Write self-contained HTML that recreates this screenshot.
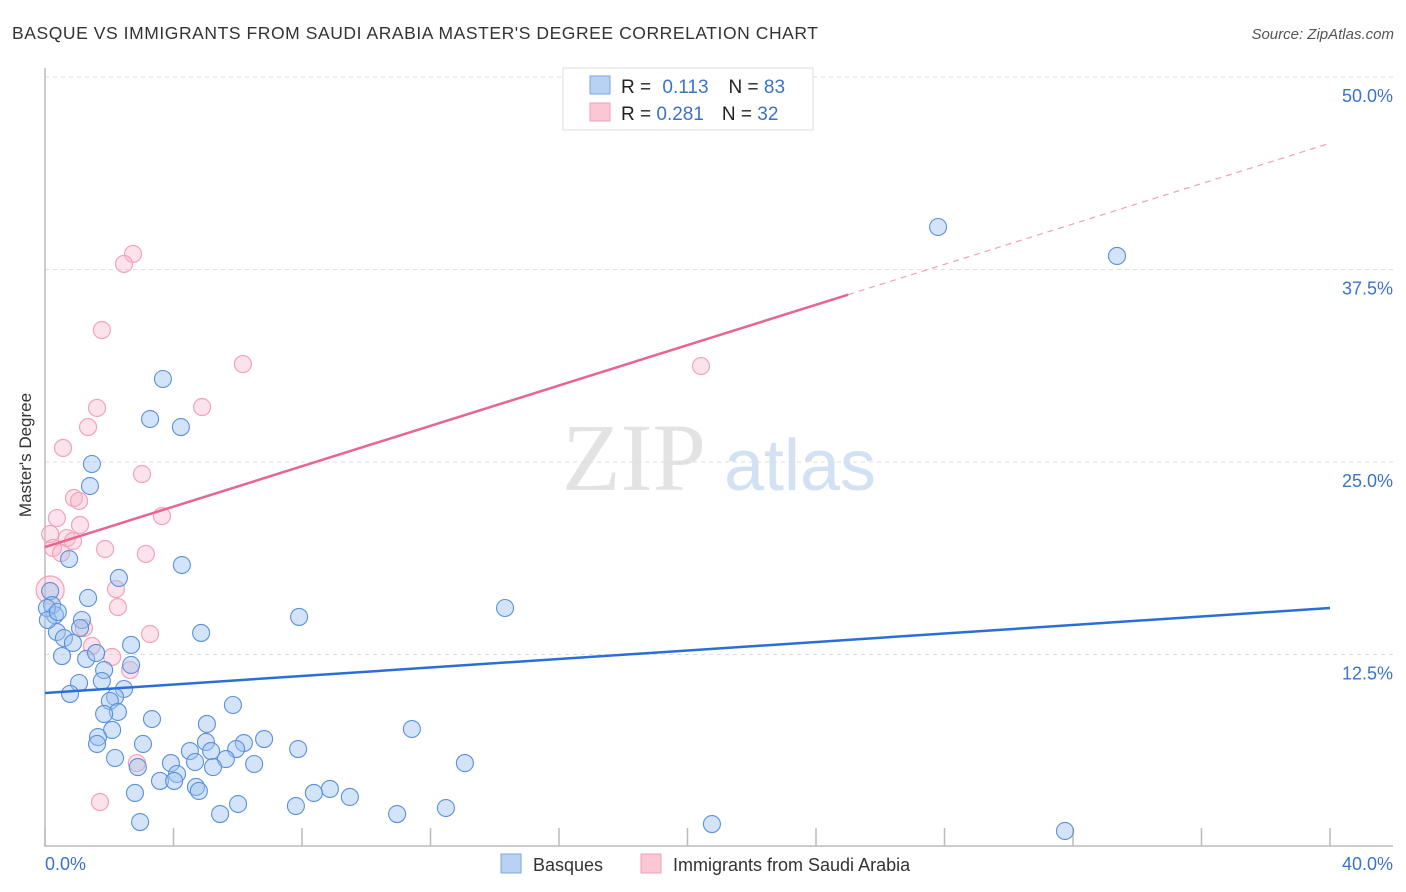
<!DOCTYPE html>
<html><head><meta charset="utf-8"><style>
body{margin:0;background:#fff;font-family:"Liberation Sans",sans-serif}
svg{display:block}
</style></head><body>
<svg id="chart" width="1406" height="892">
<text x="12" y="39" font-size="17.5" fill="#333" textLength="806" lengthAdjust="spacing">BASQUE VS IMMIGRANTS FROM SAUDI ARABIA MASTER'S DEGREE CORRELATION CHART</text>
<text x="1394" y="39" font-size="15" fill="#555" font-style="italic" text-anchor="end">Source: ZipAtlas.com</text>
<text x="31" y="455" font-size="17" fill="#333" text-anchor="middle" transform="rotate(-90 31 455)">Master's Degree</text>
<g><text x="634" y="490" font-size="96" fill="#ddd" font-family="Liberation Serif,serif" text-anchor="middle" opacity="0.8">ZIP</text><text x="800" y="490" font-size="72" fill="#c8daf2" text-anchor="middle" opacity="0.8">atlas</text></g>
<g id="grid"></g><g id="axes"></g><g id="pts"></g><g id="lines"></g>
<g>
<rect x="563" y="68" width="250" height="62" fill="#fff" stroke="#ddd"/>
<rect x="590" y="76" width="20" height="18" fill="#b8d2f4" stroke="#7aa6e0"/>
<text x="621" y="93" font-size="19" fill="#222">R = <tspan fill="#3b73c9" dx="6">0.113</tspan><tspan dx="20" fill="#222">N = </tspan><tspan fill="#3b73c9">83</tspan></text>
<rect x="590" y="103" width="20" height="18" fill="#fcc6d4" stroke="#f0a0b8"/>
<text x="621" y="120" font-size="19" fill="#222">R = <tspan fill="#3b73c9">0.281</tspan><tspan dx="18" fill="#222">N = </tspan><tspan fill="#3b73c9">32</tspan></text>
</g>
<g>
<rect x="501" y="854" width="20" height="19" fill="#b8d2f4" stroke="#7aa6e0"/>
<text x="533" y="871" font-size="18" fill="#333">Basques</text>
<rect x="641" y="854" width="20" height="19" fill="#fcc6d4" stroke="#f0a0b8"/>
<text x="673" y="871" font-size="18" fill="#333">Immigrants from Saudi Arabia</text>
</g>
</svg>
<script>
const xTicks=[0,4,8,12,16,20,24,28,32,36,40];
const yTicks=[12.5,25,37.5,50];
const yTickLabels=["12.5%","25.0%","37.5%","50.0%"];
const basqueX=[3.67,3.27,4.23,1.46,1.40,0.75,4.26,2.30,1.34,0.16,0.22,0.31,0.06,7.91,14.32,1.15,0.37,1.09,4.86,2.68,0.59,0.87,0.53,1.28,1.59,1.84,2.68,1.77,1.06,0.78,2.46,2.18,2.02,2.27,1.84,3.33,5.85,5.04,2.09,1.65,1.62,3.05,6.82,11.42,6.19,5.01,4.51,5.17,5.95,7.88,2.18,3.92,5.63,6.51,13.07,2.89,4.67,5.23,4.11,3.58,4.02,4.70,4.79,2.80,8.87,8.37,9.49,6.01,7.81,5.45,2.96,10.96,12.48,20.76,31.75,27.80,33.37,0.09,0.40];
const basqueY=[30.39,27.79,27.27,24.87,23.44,18.70,18.31,17.47,16.17,16.62,15.71,15.06,15.52,14.94,15.52,14.74,13.96,14.22,13.90,13.12,13.57,13.25,12.40,12.21,12.60,11.49,11.82,10.78,10.65,9.94,10.26,9.74,9.48,8.77,8.64,8.31,9.22,7.99,7.60,7.14,6.69,6.69,7.01,7.66,6.75,6.82,6.23,6.23,6.36,6.36,5.78,5.45,5.71,5.39,5.45,5.19,5.52,5.19,4.74,4.29,4.29,3.90,3.64,3.51,3.77,3.51,3.25,2.79,2.66,2.14,1.62,2.14,2.53,1.49,1.04,40.26,38.38,14.74,15.26];
const saudiX=[2.74,2.46,1.77,6.16,20.42,4.89,1.62,1.34,0.56,3.02,0.90,1.06,3.64,0.37,1.09,0.68,0.87,0.16,0.25,1.87,0.50,3.14,2.21,2.27,0.16,1.21,3.27,1.46,2.09,2.65,2.86,1.71];
const saudiY=[38.51,37.86,33.57,31.36,31.23,28.57,28.51,27.27,25.91,24.22,22.66,22.47,21.49,21.36,20.91,20.06,19.87,20.32,19.42,19.35,19.09,19.03,16.75,15.58,16.69,14.22,13.83,13.05,12.34,11.49,5.45,2.92];
const basqueTrend=[10.0,15.52];
const saudiTrend=[19.48,45.7];
const saudiSolidEnd=25;
const X=v=>45+v*32.125, Y=v=>847-v*15.4;
const NS="http://www.w3.org/2000/svg";
function mk(t,a,p){const e=document.createElementNS(NS,t);for(const k in a)e.setAttribute(k,a[k]);p.appendChild(e);return e;}
const grid=document.getElementById('grid'),axes=document.getElementById('axes'),pts=document.getElementById('pts'),lines=document.getElementById('lines');
yTicks.forEach((v,i)=>{
 const l=mk('line',{x1:45,x2:1393,y1:Y(v),y2:Y(v),stroke:'#ddd','stroke-dasharray':'4,4'},grid);
 
 
 const t=mk('text',{x:1393,y:Y(v)+25,'font-size':18,fill:'#3b73c9','text-anchor':'end'},axes);
 t.textContent=yTickLabels[i];
 
 
});
const ax=mk('line',{x1:45,x2:45,y1:68,y2:847,stroke:'#bbb','stroke-width':1.5},axes);


const bx=mk('line',{x1:45,x2:1393,y1:846,y2:846,stroke:'#bbb','stroke-width':1.5},axes);


xTicks.forEach(v=>{
 const t=mk('line',{x1:X(v),x2:X(v),y1:828,y2:846,stroke:'#bbb','stroke-width':1.5},axes);
 
 
});
const x0=mk('text',{x:45,y:870,'font-size':18,fill:'#3b73c9'},axes);x0.textContent=xTicks[0].toFixed(1)+'%';


const x1=mk('text',{x:1393,y:870,'font-size':18,fill:'#3b73c9','text-anchor':'end'},axes);x1.textContent=xTicks[xTicks.length-1].toFixed(1)+'%';


saudiX.forEach((v,i)=>{
 const c=mk('circle',{cx:X(v),cy:Y(saudiY[i]),r:(i==24?14:8.5),fill:'rgba(248,182,202,0.4)',stroke:'#f0a3ba','stroke-width':1.2},pts);
 
 
});
basqueX.forEach((v,i)=>{
 const c=mk('circle',{cx:X(v),cy:Y(basqueY[i]),r:8.5,fill:'rgba(160,196,240,0.45)',stroke:'#5a90db','stroke-width':1.1},pts);
 
 
});
const bl=mk('line',{x1:X(0),y1:Y(basqueTrend[0]),x2:X(40),y2:Y(basqueTrend[1]),stroke:'#2a6fd6','stroke-width':2.5},lines);


const sm=saudiTrend[0]+(saudiTrend[1]-saudiTrend[0])*saudiSolidEnd/40;
const sl=mk('line',{x1:X(0),y1:Y(saudiTrend[0]),x2:X(saudiSolidEnd),y2:Y(sm),stroke:'#e8658f','stroke-width':2.5},lines);


const sd=mk('line',{x1:X(saudiSolidEnd),y1:Y(sm),x2:X(40),y2:Y(saudiTrend[1]),stroke:'#f0a0b8','stroke-width':1.2,'stroke-dasharray':'6,5'},lines);


</script>
</body></html>
